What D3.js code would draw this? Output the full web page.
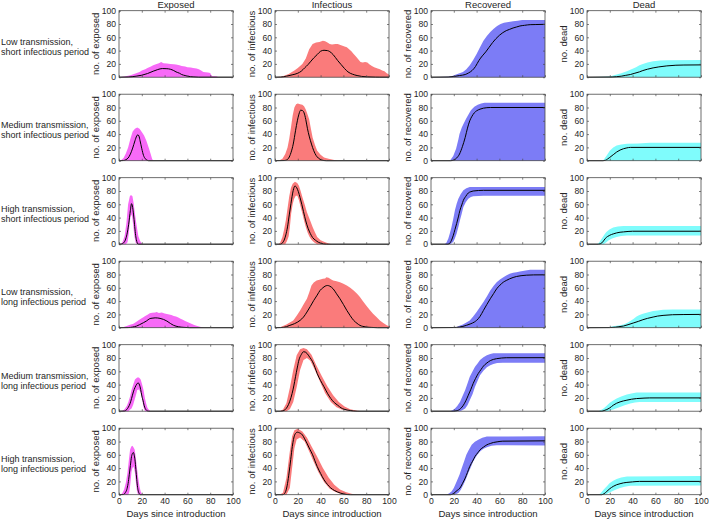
<!DOCTYPE html>
<html><head><meta charset="utf-8">
<script src="https://cdn.jsdelivr.net/npm/d3@7"></script>
<style>
html,body{margin:0;padding:0;background:#fff;}
svg{display:block;font-family:"Liberation Sans",Arial,Helvetica,sans-serif;}
</style></head><body>
<svg id="chart" width="709" height="520"></svg>
<script>
// ---------- labels ----------
const columnTitles = ["Exposed","Infectious","Recovered","Dead"];
const yLabels = ["no. of exposed","no. of infectious","no. of recovered","no. dead"];
const rowLabels = [
  ["Low transmission,","short infectious period"],
  ["Medium transmission,","short infectious period"],
  ["High transmission,","short infectious period"],
  ["Low transmission,","long infectious period"],
  ["Medium transmission,","long infectious period"],
  ["High transmission,","long infectious period"]
];
const xTicks = [0,20,40,60,80,100];
const yTicks = [0,20,40,60,80,100];
const xLabel = "Days since introduction";
const ZERO = [[0,0],[100,0]];

// ---------- data: [day, value] ----------
// Low transmission, short infectious period
const E_LS_mean=[[0,0],[8,0.3],[15,1.5],[20,3],[25,5.5],[30,9],[34,11.5],[38,13],[42,12.8],[45,12],[48,10],[50,8],[53,6],[55,4],[58,2.5],[60,1.5],[65,0.5],[70,0],[100,0]];
const E_LS_hi=[[0,0],[5,1],[10,3],[15,6],[18,8],[20,10],[23,12],[25,14],[28,16],[30,18],[33,20],[35,21],[37,23],[39,21],[42,20.5],[45,20],[48,19.5],[50,19],[53,18],[55,17],[58,16],[60,15],[63,14.5],[65,14],[68,13],[70,12],[72,10],[74,8],[76,7.5],[78,7],[80,6.5],[81,3],[82,1.5],[84,1.5],[86,1],[87,0],[100,0]];
const E_LS_lo=ZERO;
const I_LS_mean=[[0,0],[5,0.2],[10,1.5],[15,3.5],[20,6],[23,9],[26,14],[29,19],[31,23],[34,29],[37,34],[40,39],[43,40.5],[46,40],[48,38.5],[51,34],[55,25],[58,19],[61,13],[64,8],[68,4.5],[72,2.5],[76,1.2],[81,0.5],[88,0.1],[92,0],[100,0]];
const I_LS_hi=[[0,0],[5,0.5],[8,2],[12,5],[17,10],[20,14],[24,20],[27,28],[30,42],[33,50],[36,52],[39,53],[42,55],[44,54],[46,52],[48,50],[50,49],[53,50],[55,50],[58,48],[61,46],[63,45],[65,42],[67,39],[69,35],[71,31],[73,27],[75,23],[77,22],[79,23],[81,22],[83,19],[85,17],[87,15],[90,13],[92,12],[94,10],[96,9],[98,6],[100,4]];
const I_LS_lo=ZERO;
const R_LS_mean=[[0,0],[15,0.3],[20,1],[25,2.5],[30,4],[33,6.5],[36,10],[39,16],[42,25],[45,32],[48,38],[51,45],[54,52],[57,58],[60,63],[63,67],[66,70],[69,72],[72,74],[75,75.5],[78,77],[82,78],[87,79],[92,79.2],[100,79.5]];
const R_LS_hi=[[0,0],[15,0.5],[18,1.5],[22,4],[25,6],[28,8],[31,12],[34,18],[37,26],[40,35],[43,45],[46,55],[49,62],[52,68],[55,73],[58,77],[61,80],[64,82],[68,83],[72,84],[76,85],[80,86],[100,86]];
const R_LS_lo=ZERO;
const D_LS_mean=[[0,0],[22,0.3],[26,0.8],[30,1.5],[34,2.8],[38,4],[42,6],[46,8],[49,10],[53,12],[58,14],[63,15.5],[70,17],[78,18],[85,18.3],[100,18.5]];
const D_LS_hi=[[0,0],[15,0.5],[20,1],[23,2.5],[26,4],[30,6],[35,9],[39,12],[43,15],[46,18],[49,20],[53,22],[58,24],[64,25],[70,25.5],[100,26]];
const D_LS_lo=ZERO;

// Medium transmission, short infectious period
const E_MS_mean=[[0,0],[4,0.3],[6,1.5],[8,4],[10,10],[12,19],[14,30],[15.5,37],[16.5,39],[17.5,37],[18.5,30],[20,18],[21.5,8],[23,3],[24.5,1],[26,0],[100,0]];
const E_MS_hi=[[0,0],[2,1],[4,4],[6,11],[8,20],[10,33],[12,44],[14,48],[16,50],[18,48],[20,43],[22,38],[24,30],[26,20],[28,9],[29,3],[30,0],[100,0]];
const E_MS_lo=ZERO;
const I_MS_mean=[[0,0],[8,0.3],[10,1],[12,4],[14,12],[16,25],[18,45],[19.6,60],[21,70],[22.5,76],[24,75.5],[25.5,72],[27,62],[28.5,48],[30,37],[32,25],[34,15],[36,8],[38,4],[41,1],[45,0],[100,0]];
const I_MS_hi=[[0,0],[4,0.5],[6.5,3],[9,10],[11,20],[12.5,33],[14,50],[15.5,68],[17,80],[18.5,85],[20,86],[22,85],[24,84],[25.5,82],[27,77],[28.5,70],[30,62],[31.5,48],[33,35],[35,24],[37,15],[40,9],[43,5],[47,3],[52,1],[55,0],[100,0]];
const I_MS_lo=ZERO;
const R_MS_mean=[[0,0],[17,0],[20,1],[22.5,4],[25,10],[27.5,21],[30,35],[32,49],[34,60],[36,67],[38,72],[40,75],[43,77.5],[46,79],[52,80],[100,80]];
const R_MS_hi=[[0,0],[15,0],[17,1],[19.5,7],[22,18],[24,32],[25,40],[27,50],[29,57],[31,64],[33,70],[35,76],[38,81],[41,84],[44,86],[47,87],[100,87]];
const R_MS_lo=ZERO;
const D_MS_mean=[[0,0],[14,0],[16,0.5],[18,2.5],[20,5],[23,9],[26,13],[29,16],[32,18],[35,19.3],[38,20],[100,20]];
const D_MS_hi=[[0,0],[13,0],[14.5,1],[17,7],[20,15],[23,20],[26,23],[30,24.5],[35,25.5],[45,26],[55,27],[100,27]];
const D_MS_lo=ZERO;

// High transmission, short infectious period
const E_HS_mean=[[0,0],[2,0.3],[4,2],[5.5,6],[7,15],[8.5,30],[10,51],[11,61],[12,55],[12.8,44],[13.6,30],[14.4,16],[15.2,7],[16,2],[17,0],[100,0]];
const E_HS_hi=[[0,0],[2,0.5],[3.5,5],[5,13],[6.5,32],[8,60],[9.5,72],[10.5,74],[11.8,72],[12.8,62],[13.8,48],[15,33],[16,22],[17,12],[18.5,5],[20,1],[21,0],[100,0]];
const E_HS_lo=[[0,0],[6,0],[7.5,3],[8.5,15],[9.5,35],[10.5,45],[11.5,42],[12.5,28],[13.5,12],[14.5,3],[15.5,0],[100,0]];
const I_HS_mean=[[0,0],[5,0],[6.5,2],[8,6],[9.5,14],[11,26],[12.5,44],[14,61],[15,72],[16,81],[17.5,87.5],[19,85],[20.5,79],[22,70],[23.5,60],[25,49],[27,35],[29,24],[31,16],[33,10],[35.5,6],[38,3],[40,1.5],[45,0],[100,0]];
const I_HS_hi=[[0,0],[3,0],[4.5,2],[6.5,11],[8,22],[9.5,36],[11,54],[12.5,72],[14,85],[15.5,91],[17.5,94],[19.5,92],[21,88],[22.5,80],[24,71],[26,60],[28,48],[30.5,37],[33,26],[35,18],[37,11],[40,6],[43,3.5],[47,1],[50,0],[100,0]];
const I_HS_lo=[[0,0],[9,0],[10.5,5],[12,12],[13,25],[14.2,46],[15.5,60],[16.7,68],[18.2,73],[19.6,73],[21,66],[22.5,56],[24,46],[25.4,36],[27,26],[28.5,18],[30,12],[31.5,8],[33,5],[34.5,2.5],[37,0],[100,0]];
const R_HS_mean=[[0,0],[15,0],[16.7,2],[18,6],[19.6,13.5],[21,22],[22.5,31],[24,41],[25.4,51],[27,59],[28.4,66],[30.5,72],[32.7,77],[35,79],[37,80],[46,81],[100,81]];
const R_HS_hi=[[0,0],[12,0],[13.5,2],[15.2,8.5],[16.5,16],[18,26],[19.5,38],[21,51],[22.5,61],[24,68.5],[26,75],[28.4,81],[31,84],[34,86],[100,86]];
const R_HS_lo=[[0,0],[17,0],[19.6,3.5],[21,9],[22.5,16],[24,26],[25.4,36],[27,46],[28.4,56],[30.5,63],[32.7,68.5],[35,71],[37,72],[46,73],[100,73]];
const D_HS_mean=[[0,0],[10,0],[11.5,0.5],[13,2],[14.5,5],[16,8.5],[18,11.5],[20,13.5],[23,15.5],[26,17],[29,18],[32,18.5],[40,19.5],[100,19.5]];
const D_HS_hi=[[0,0],[8.7,0],[10.5,2],[13,8.5],[15,14],[17,18.5],[20,22.5],[23,25],[27,26.5],[32,27.5],[100,27.5]];
const D_HS_lo=[[0,0],[14.5,0],[17,3],[19,6],[22,8.5],[26,11],[30,12.3],[35,13],[100,13]];

// Low transmission, long infectious period
const E_LL_mean=[[0,0],[8,0.2],[12,1],[15.5,2.5],[18,4.5],[21.4,7.5],[24,10],[27,13.6],[29,14.3],[31.7,14.8],[34,14.6],[36,14],[39,12.5],[42,10],[45,6.5],[48,3.5],[52,1.5],[57,0.5],[62,0],[100,0]];
const E_LL_hi=[[0,0],[2,0.3],[4,1],[6.7,2.5],[9,4],[12.6,6],[15,8.5],[18.5,12.6],[21,15.5],[23,17.7],[25,19.5],[27,21.7],[29,22.5],[31.7,22.7],[33,23.5],[35,22],[37.5,22.7],[40,21.5],[42,20.7],[44,20],[46,19],[48,17.7],[50,17],[52,15.5],[54,13.6],[56,12],[58,10],[60,8.5],[62,7],[64,5.5],[66,4],[68,3],[71,1.5],[75,0],[100,0]];
const E_LL_lo=ZERO;
const I_LL_mean=[[0,0],[5,0.2],[10,1.5],[13,3.5],[17,6],[22,11],[25,16],[28,23.5],[31,32],[34,41],[37,49],[39.5,56],[42,60],[44,62.5],[46,63.5],[48,62.5],[51,58.5],[54,51],[57,43.5],[60,35],[63,26],[66,18],[69,11],[72,6.5],[74.5,3.5],[77,2],[80,1],[85,0.4],[90,0],[100,0]];
const I_LL_hi=[[0,0],[4.4,0.5],[7,2.5],[10,5],[13,8],[16,11],[19,18],[22,26],[25,35],[28,43.5],[30,53],[32,63.5],[34,68],[36.5,71],[39,72],[42,73.5],[44,74],[45,76],[47,75],[49,73],[51,71],[54,70],[57,68.5],[60,66],[63,63.5],[66,60],[69,56],[72,51],[74.5,46],[77,40],[80,33.5],[83,27],[86,21],[89,16],[92,11],[95,7],[98,3.5],[100,2]];
const I_LL_lo=ZERO;
const R_LL_mean=[[0,0],[20,0.3],[25,1],[28,2],[31,3.5],[35,6],[38,8.5],[40,11],[43,17],[46,26],[49,35],[52,43.5],[55,51.5],[57.6,58.5],[60.5,64],[63.5,68.5],[66,71],[69,73.5],[72,75.5],[75,77],[79,78.2],[84,79],[90,79.4],[100,79.5]];
const R_LL_hi=[[0,0],[18,0],[22.5,1],[25,3],[28,5],[31,8],[34,11],[37,17],[40,23.5],[43,31],[46,38.5],[49,47],[52,56],[55,63],[57.6,68.5],[60.5,72.5],[63.5,76],[66,78.5],[69,81],[72,82.5],[75,83.5],[78,84.5],[83,86],[87,87],[100,87]];
const R_LL_lo=ZERO;
const D_LL_mean=[[0,0],[20,0.2],[25,0.8],[28,1.5],[32,2.5],[36,4.5],[40.5,7],[45,9.5],[49,12],[53,14],[58,16],[62,17.5],[66.7,18.5],[75,19.5],[85,19.8],[100,20]];
const D_LL_hi=[[0,0],[15,0.3],[20,1],[23,2],[26,3],[29,3.5],[32,5],[35,7],[38,10],[41,13.5],[43.5,17],[46,19],[49,21],[53,23],[58,25],[62,26],[66.7,27],[75,27.3],[100,27.5]];
const D_LL_lo=ZERO;

// Medium transmission, long infectious period
const E_ML_mean=[[0,0],[5,0.3],[6.8,2.5],[8.2,6],[9.7,11.5],[11,19],[12.6,29],[14,35.5],[15.6,40.7],[16.8,42.7],[17.6,41],[18.5,36.7],[19.5,28],[20.3,21],[21,16.6],[22,9],[23,4],[24.4,1],[26,0],[100,0]];
const E_ML_hi=[[0,0],[2.4,0],[4,1.5],[5.3,4],[6.8,8],[8.2,14],[9.7,22],[11,31.7],[12.5,40],[14,47.7],[16,50.8],[17.5,50.5],[19,47.7],[20.3,40],[21.5,31.7],[22.7,20],[23.8,11.5],[25,5],[26,2.5],[27.4,0],[100,0]];
const E_ML_lo=[[0,0],[8.2,0],[9.5,2],[11,4],[12.5,10],[14,19],[15,25],[16,31.7],[17.6,32.7],[18.7,29],[19.7,24],[20.6,15],[21.5,6.5],[22.3,2],[23,0],[100,0]];
const I_ML_mean=[[0,0],[5,0],[7,0.5],[9,2.5],[10.8,6.5],[13,15],[15,26.6],[16.5,38],[18,51.8],[19.5,65],[21,77],[23,85],[25,89.4],[26.5,89],[28,87],[30.5,81],[33,74.4],[35,66],[37,56.8],[40,46],[43,36.7],[46,27],[49,19],[52,13],[55,9],[58,5],[60.5,3],[66,1],[72,0],[100,0]];
const I_ML_hi=[[0,0],[4,0],[7,2.5],[10,12],[13,35],[16,62],[19,84],[22,93],[25,95],[28,93],[32,85],[36,70],[41,53],[46,37],[51,24],[56,14],[61,7],[66,3],[71,1],[76,0],[100,0]];
const I_ML_lo=[[0,0],[10,0],[13,3],[16,14],[19,36],[22,62],[25,77],[28,80],[31,76],[35,62],[39,46],[44,27],[49,14],[54,6],[59,2],[64,0.5],[68,0],[100,0]];
const R_ML_mean=[[0,0],[20,0],[22,0.5],[24,1.5],[26,4],[28.4,9],[30.5,15.5],[32.7,24],[35,33],[37,41.7],[39,49],[41.5,56.8],[44,63],[46,67.8],[49,72.5],[52,76],[55,78],[57.6,79],[62,80],[66,80.4],[100,80.5]];
const R_ML_hi=[[0,0],[16.7,0],[19,1.5],[21,4],[23,8],[25.4,14],[27.5,22],[30,31.7],[32,41.5],[34,51.8],[36.5,60],[38.6,66.8],[41,72],[43,77],[46,81],[49,84],[52,86],[54.7,87],[100,87]];
const R_ML_lo=[[0,0],[25,0],[27,1],[30,4],[32,9],[34,16.6],[36.5,26],[38.6,36.7],[41,46],[43,54],[46,61],[49,66],[52,69],[54.7,71],[58,72.3],[63,73],[100,73]];
const D_ML_mean=[[0,0],[13,0],[15,1],[17.4,2.5],[20,5],[23,9],[26,12],[29,14],[32,15.5],[35,16.6],[39,18],[43.5,19],[50,19.7],[55,20],[100,20]];
const D_ML_hi=[[0,0],[10,0],[12,1.5],[14.5,4],[17,8],[20,12.6],[23,16],[26,19],[30,22],[35,25],[40,27],[43.5,28],[100,28]];
const D_ML_lo=[[0,0],[17.4,0],[20,1],[23,2.5],[26,4.5],[29,6.5],[33,9],[38,11.5],[42,13],[46,14],[100,14]];

// High transmission, long infectious period
const E_HL_mean=[[0,0],[4,0.3],[5.5,3],[6.8,7.5],[8,17],[9,30],[10,44],[11,57.5],[11.8,62],[12.6,63.5],[13.3,60],[14,52.5],[14.8,38],[15.6,22.5],[16.3,11],[17,5],[18,1],[18.5,0],[100,0]];
const E_HL_hi=[[0,0],[1.5,0],[3,2.5],[4.4,7.5],[6,18],[7.4,32.5],[8.5,50],[9.7,67.5],[10.8,72.5],[11.8,73.5],[12.8,71],[13.8,67.5],[14.7,56],[15.6,42.5],[16.8,26],[18,12.5],[19,5],[20,1.5],[21,0],[100,0]];
const E_HL_lo=[[0,0],[8.2,0],[9,4],[9.7,12.5],[10.4,24],[11,35],[11.8,40],[12.6,42.5],[13.3,39],[14,32.5],[14.8,19],[15.6,7.5],[16.3,2],[17,0],[100,0]];
const I_HL_mean=[[0,0],[7,0],[8.2,1.5],[9.4,5],[11,17],[12.3,32.5],[13.8,53],[15.2,72.5],[16.2,83],[17.3,90],[18.5,93],[19.6,94],[21.5,93],[24,90],[26,84],[28,77.5],[30.5,68.5],[33,60],[35,51],[37,42.5],[40,32],[43,22.5],[46,15.5],[49,10],[52,6.5],[55,4],[60.5,1],[66,0],[100,0]];
const I_HL_hi=[[0,0],[4,0],[7,3],[10,25],[13,65],[15,88],[17,97],[20,99],[24,95],[28,86],[32,73],[37,57],[42,40],[47,26],[52,15],[57,8],[62,4],[67,1.5],[72,0],[100,0]];
const I_HL_lo=[[0,0],[10,0],[13,10],[15,40],[17,70],[19,83],[22,86],[26,80],[30,65],[34,49],[38,34],[43,19],[48,9],[53,4],[58,1],[62,0],[100,0]];
const R_HL_mean=[[0,0],[17,0],[19,1],[21,3.5],[23,6.5],[25.4,10],[27.5,16.5],[30,25],[32,33.5],[34,42.5],[36.5,50.5],[38.6,57.5],[41,63],[43,67.5],[46,71.5],[49,75],[52,77],[54.7,78.5],[58,79.5],[63,80.5],[100,81]];
const R_HL_hi=[[0,0],[13.7,0],[16,2],[18,5],[20,10],[22.5,20],[25,30],[27,40],[29,50],[31,60],[33,67],[35.7,75],[38.5,79.5],[41.5,82.5],[45,85.5],[49,87.5],[100,88]];
const R_HL_lo=[[0,0],[19.6,0],[22,1],[24,2.5],[26,7],[28.4,15],[30.5,23],[32.7,32.5],[35,41.5],[37,50],[40,58.5],[43,65],[46,69],[49,71.5],[53,73.5],[57.6,74.5],[100,74]];
const D_HL_mean=[[0,0],[13,0],[15,1.5],[17.4,5],[20,9],[23,12.5],[26,15],[29,16.5],[32,17.8],[35,18.5],[40,19.3],[46,20],[100,20]];
const D_HL_hi=[[0,0],[10,0],[12,2],[14.5,7.5],[17,12],[20,17.5],[23,21],[26,23.5],[30,25.8],[35,27.5],[100,28]];
const D_HL_lo=[[0,0],[16,0],[18.5,2],[21.7,5],[25,7.5],[29,10],[33,12],[38,13.5],[100,14]];

const grid = [
  [[E_LS_lo,E_LS_hi,E_LS_mean],[I_LS_lo,I_LS_hi,I_LS_mean],[R_LS_lo,R_LS_hi,R_LS_mean],[D_LS_lo,D_LS_hi,D_LS_mean]],
  [[E_MS_lo,E_MS_hi,E_MS_mean],[I_MS_lo,I_MS_hi,I_MS_mean],[R_MS_lo,R_MS_hi,R_MS_mean],[D_MS_lo,D_MS_hi,D_MS_mean]],
  [[E_HS_lo,E_HS_hi,E_HS_mean],[I_HS_lo,I_HS_hi,I_HS_mean],[R_HS_lo,R_HS_hi,R_HS_mean],[D_HS_lo,D_HS_hi,D_HS_mean]],
  [[E_LL_lo,E_LL_hi,E_LL_mean],[I_LL_lo,I_LL_hi,I_LL_mean],[R_LL_lo,R_LL_hi,R_LL_mean],[D_LL_lo,D_LL_hi,D_LL_mean]],
  [[E_ML_lo,E_ML_hi,E_ML_mean],[I_ML_lo,I_ML_hi,I_ML_mean],[R_ML_lo,R_ML_hi,R_ML_mean],[D_ML_lo,D_ML_hi,D_ML_mean]],
  [[E_HL_lo,E_HL_hi,E_HL_mean],[I_HL_lo,I_HL_hi,I_HL_mean],[R_HL_lo,R_HL_hi,R_HL_mean],[D_HL_lo,D_HL_hi,D_HL_mean]]
];

// ---------- styles / layout ----------
const bandColors = ["#f76af7","#fa7b7b","#7c7cf6","#7ffcfc"];
const textColor = "#262626";
const axisColor = "#4a4a4a";
const fs = 9.5;      // titles / labels
const tfs = 8.6;     // tick labels
const left0 = 119, colStep = 156, pw = 114;
const top0 = 10.7, rowStep = 83.5, ph = 66.5;

const svg = d3.select("#chart");
const x = d3.scaleLinear().domain([0,100]).range([0,pw]);
const y = d3.scaleLinear().domain([0,100]).range([ph,0]);
const bandLine = d3.line().x(d=>x(d[0])).y(d=>y(d[1]));
const meanLine = d3.line().x(d=>x(d[0])).y(d=>y(d[1])).curve(d3.curveMonotoneX);

// column titles
columnTitles.forEach((t,c)=>{
  svg.append("text").attr("x", left0 + c*colStep + pw/2).attr("y", 8.3)
    .attr("text-anchor","middle").attr("font-size",fs).attr("fill",textColor).text(t);
});

// row labels
rowLabels.forEach((lines,r)=>{
  const t = svg.append("text").attr("font-size",9).attr("fill",textColor);
  lines.forEach((ln,i)=>{
    t.append("tspan").attr("x",1).attr("y", top0 + r*rowStep + 33.8 + i*10.3).text(ln);
  });
});

grid.forEach((row,r)=>{
  row.forEach((cell,c)=>{
    const [lo,hi,mean] = cell;
    const g = svg.append("g").attr("transform",`translate(${left0 + c*colStep},${top0 + r*rowStep})`);
    // band
    const poly = hi.concat(lo.slice().reverse());
    g.append("path").attr("d", bandLine(poly) + "Z").attr("fill", bandColors[c]).attr("stroke","none");
    // mean
    g.append("path").attr("d", meanLine(mean)).attr("fill","none").attr("stroke","#000").attr("stroke-width",1);

    const isBottom = r === grid.length-1;
    // axes with inward ticks
    const ax = [
      d3.axisBottom(x).tickValues(xTicks).tickSizeInner(-2).tickSizeOuter(0).tickPadding(3.5)
        .tickFormat(isBottom ? d3.format("d") : ()=>""),
      d3.axisTop(x).tickValues(xTicks).tickSizeInner(-2).tickSizeOuter(0).tickFormat(()=>""),
      d3.axisLeft(y).tickValues(yTicks).tickSizeInner(-2).tickSizeOuter(0).tickPadding(3).tickFormat(d3.format("d")),
      d3.axisRight(y).tickValues(yTicks).tickSizeInner(-2).tickSizeOuter(0).tickFormat(()=>"")
    ];
    const pos = [[0,ph],[0,0],[0,0],[pw,0]];
    ax.forEach((a,i)=>{
      const ga = g.append("g").attr("transform",`translate(${pos[i][0]},${pos[i][1]})`).call(a);
      ga.select(".domain").remove();
      ga.selectAll("line").attr("stroke",axisColor).attr("stroke-width",0.7);
      ga.selectAll("text").attr("font-size",tfs).attr("fill",textColor)
        .attr("font-family",'"Liberation Sans",Arial,sans-serif');
    });
    g.append("rect").attr("x",0).attr("y",0).attr("width",pw).attr("height",ph)
      .attr("fill","none").attr("stroke",axisColor).attr("stroke-width",0.8);
    // y label
    g.append("text").attr("transform",`translate(${-19.8},${ph/2}) rotate(-90)`)
      .attr("text-anchor","middle").attr("font-size",fs).attr("fill",textColor).text(yLabels[c]);
    if (isBottom) {
      g.append("text").attr("x",pw/2).attr("y",ph+22).attr("text-anchor","middle")
        .attr("font-size",fs+0.1).attr("fill",textColor).text(xLabel);
    }
  });
});
</script>
</body></html>
